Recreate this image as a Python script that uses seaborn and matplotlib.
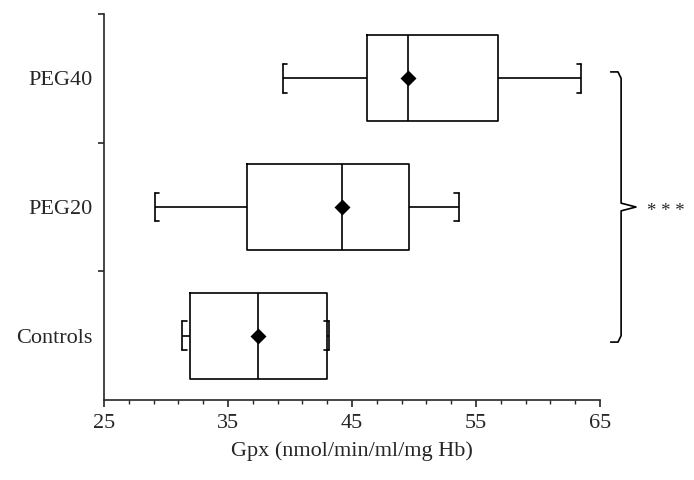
import numpy as np
import pandas as pd
import matplotlib
matplotlib.use("Agg")
from matplotlib import pyplot as plt
from matplotlib.ticker import MultipleLocator, FixedLocator
import seaborn as sns

# five-number summaries (top to bottom)
groups = ["PEG40", "PEG20", "Controls"]
whisker_low = [39.4, 29.1, 31.3]
q1 = [46.2, 36.5, 31.9]
median = [49.5, 44.2, 37.4]
q3 = [56.8, 49.6, 43.0]
whisker_high = [63.5, 53.6, 43.1]
means = [49.5, 44.2, 37.4]
x_ticks = [25, 35, 45, 55, 65]
signif = "* * *"

sns.set_style("ticks")
plt.rcParams["font.family"] = ["Liberation Serif", "DejaVu Serif"]
plt.rcParams["font.size"] = 16

# 5 points per group -> quartiles fall exactly on q1 / median / q3
rows = []
for g, lo, a, m, b, hi in zip(groups, whisker_low, q1, median, q3, whisker_high):
    for v in (lo, a, m, b, hi):
        rows.append({"group": g, "gpx": v})
df = pd.DataFrame(rows)

fig = plt.figure(figsize=(6.94, 4.8), dpi=100)
ax = fig.add_axes([0.150, 0.1667, 0.7146, 0.8041])

cap_w = 0.225
sns.boxplot(data=df, x="gpx", y="group", order=groups, orient="h",
            whis=(0, 100), width=0.67, fill=False, color="black",
            linewidth=1.2, capwidths=cap_w, ax=ax)

# bracket ends on the whisker caps
d = 0.35
for i, (lo, hi) in enumerate(zip(whisker_low, whisker_high)):
    for yy in (i - cap_w / 2, i + cap_w / 2):
        ax.plot([lo, lo + d], [yy, yy], color="black", lw=1.2)
        ax.plot([hi, hi - d], [yy, yy], color="black", lw=1.2)

# means
sns.pointplot(x=means, y=groups, order=groups, orient="h", linestyle="none",
              marker="D", markersize=6.5, color="black", errorbar=None,
              ax=ax, zorder=5)

ax.set_xlim(25, 65)
ax.set_ylim(2.5, -0.5)
ax.xaxis.set_major_locator(FixedLocator(x_ticks))
ax.xaxis.set_minor_locator(MultipleLocator(2, offset=1))
ax.yaxis.set_minor_locator(FixedLocator([-0.5, 0.5, 1.5]))
ax.tick_params(axis="x", which="major", length=5, width=1.2, pad=5, labelsize=16)
ax.tick_params(axis="x", which="minor", length=3, width=1.0)
ax.tick_params(axis="y", which="major", length=0, pad=8, labelsize=16)
ax.tick_params(axis="y", which="minor", length=4, width=1.2)
ax.set_xlabel("Gpx (nmol/min/ml/mg Hb)", fontsize=16, labelpad=6)
ax.set_ylabel("")
for s in ("left", "bottom"):
    ax.spines[s].set_linewidth(1.2)
sns.despine(ax=ax)

# significance bracket spanning all groups
bx = [65.86, 66.45, 66.7, 66.7, 67.9, 66.7, 66.7, 66.45, 65.86]
by = [-0.05, -0.05, 0.0, 0.97, 1.0, 1.03, 2.0, 2.05, 2.05]
ax.plot(bx, by, color="black", lw=1.2, clip_on=False)
ax.text(68.8, 1.07, signif, ha="left", va="baseline", fontsize=13.5)

fig.savefig("out.png", dpi=100)
